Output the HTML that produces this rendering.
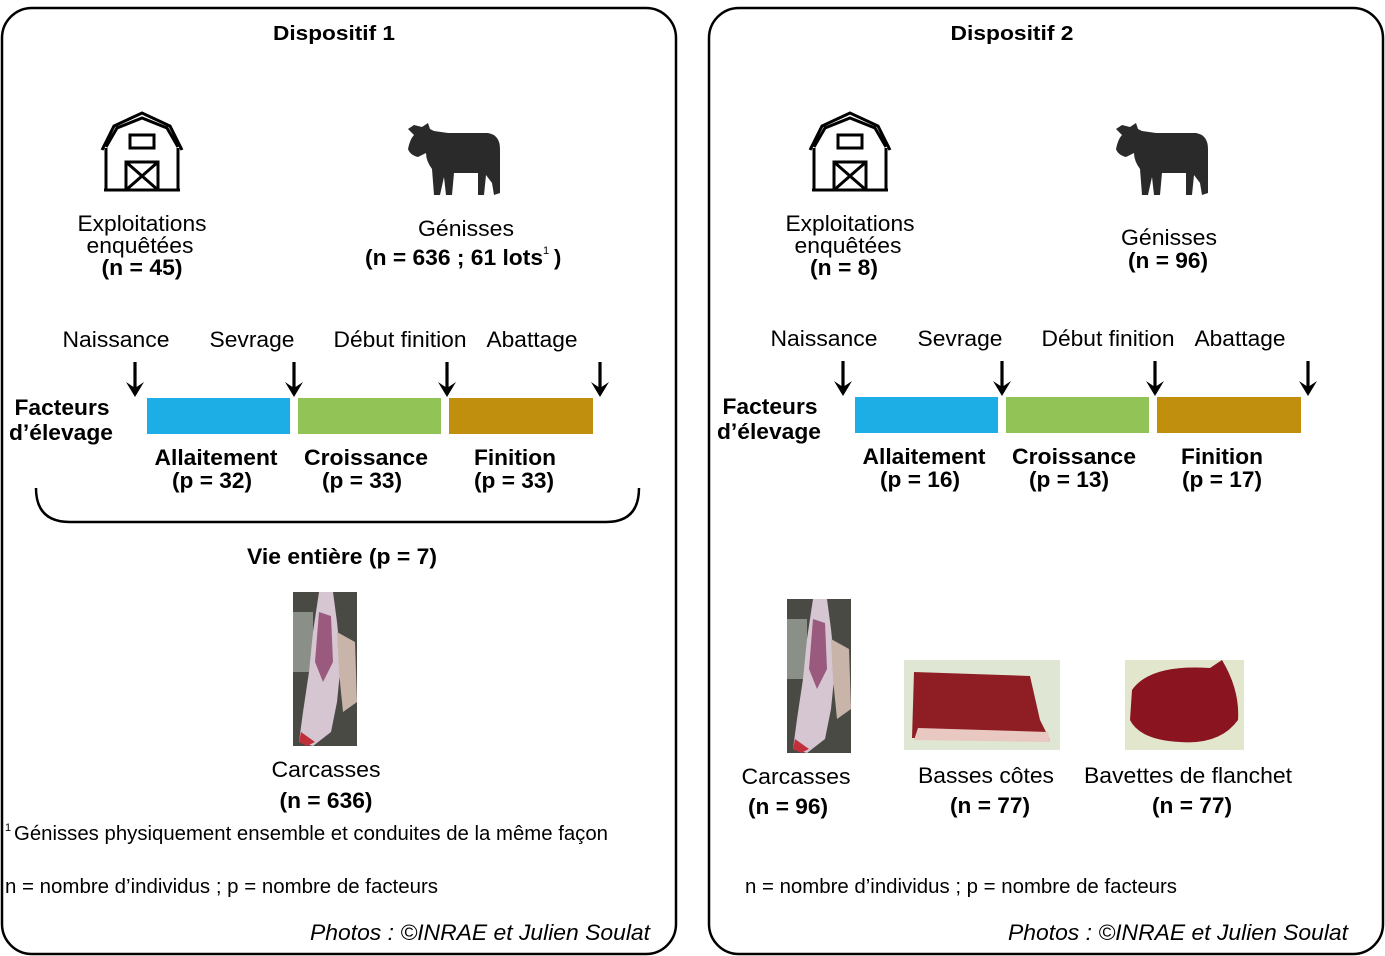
<!DOCTYPE html>
<html><head><meta charset="utf-8"><style>
html,body{margin:0;padding:0;background:#fff}
svg{display:block}
text{font-family:"Liberation Sans",sans-serif;fill:#000}
.b{font-weight:bold}
</style></head><body>
<svg width="1385" height="956" viewBox="0 0 1385 956" xmlns="http://www.w3.org/2000/svg">
<defs>
<g id="barn" fill="none" stroke="#000" stroke-width="3">
  <path d="M-36 80 V38 M36 80 V38 M-40 40 L-28 16 L0 3 L28 16 L40 40 M-36 37 L-25 18 L0 8 L25 18 L36 37"/>
  <path d="M-38 80 H38" stroke-width="3"/>
  <rect x="-8" y="25" width="24" height="13" transform="translate(-4,0)"/>
  <rect x="-16" y="52" width="32" height="28"/>
  <path d="M-16 52 L16 80 M16 52 L-16 80"/>
</g>
<g id="cow" fill="#2a2a2a">
  <path d="M0 8 L6 4 L14 6 L20 2 L22 8 L26 10 L40 12 L80 12 Q92 14 92 28 L92 72 L86 74 L84 62 L78 54 L76 74 L70 74 L70 52 L46 52 L44 74 L38 74 L36 56 L32 74 L26 74 L24 48 Q18 40 18 32 L10 36 Q2 34 0 28 Q2 18 6 14 Z"/>
</g>
<g id="carcass">
  <rect x="0" y="0" width="64" height="154" fill="#4a4a44"/>
  <rect x="0" y="20" width="20" height="60" fill="#8a8f88"/>
  <path d="M26 0 L40 0 L44 30 L48 70 L44 110 L38 140 L20 154 L6 150 L10 120 L16 80 L20 40 Z" fill="#d6c6d2"/>
  <path d="M26 20 L38 24 L40 70 L30 90 L22 70 Z" fill="#9a5a7e"/>
  <path d="M44 40 L62 50 L64 110 L50 120 L46 80 Z" fill="#c8b4a8"/>
  <path d="M8 140 L22 150 L14 154 L6 150 Z" fill="#c0303a"/>
</g>
<g id="tl">
  <text x="116" y="347" font-size="22" text-anchor="middle" textLength="107" lengthAdjust="spacingAndGlyphs">Naissance</text>
  <text x="252" y="347" font-size="22" text-anchor="middle" textLength="85" lengthAdjust="spacingAndGlyphs">Sevrage</text>
  <text x="400" y="347" font-size="22" text-anchor="middle" textLength="133" lengthAdjust="spacingAndGlyphs">Début finition</text>
  <text x="532" y="347" font-size="22" text-anchor="middle" textLength="91" lengthAdjust="spacingAndGlyphs">Abattage</text>
  <g stroke="#000" stroke-width="3.2" fill="none">
    <path d="M135 362 V390"/><path d="M294 362 V390"/><path d="M447 362 V390"/><path d="M600 362 V390"/>
  </g>
  <g fill="#000">
    <path d="M126 382 L135 397 L144 382 L135 388 Z"/>
    <path d="M285 382 L294 397 L303 382 L294 388 Z"/>
    <path d="M438 382 L447 397 L456 382 L447 388 Z"/>
    <path d="M591 382 L600 397 L609 382 L600 388 Z"/>
  </g>
  <rect x="147" y="398" width="143" height="36" fill="#1eaee6"/>
  <rect x="298" y="398" width="143" height="36" fill="#92c356"/>
  <rect x="449" y="398" width="144" height="36" fill="#c18f0e"/>
  <text x="62" y="415" font-size="22" class="b" text-anchor="middle" textLength="95" lengthAdjust="spacingAndGlyphs">Facteurs</text>
  <text x="61" y="440" font-size="22" class="b" text-anchor="middle" textLength="104" lengthAdjust="spacingAndGlyphs">d’élevage</text>
</g>
</defs>

<rect x="2" y="8" width="674" height="946" rx="30" fill="none" stroke="#000" stroke-width="2.5"/>
<rect x="709" y="8" width="674" height="946" rx="30" fill="none" stroke="#000" stroke-width="2.5"/>

<!-- Panel 1 -->
<text x="334" y="40" font-size="20" class="b" text-anchor="middle" textLength="122" lengthAdjust="spacingAndGlyphs">Dispositif 1</text>
<use href="#barn" x="142" y="110"/>
<use href="#cow" x="408" y="121"/>
<text x="142" y="231" font-size="22" text-anchor="middle" textLength="129" lengthAdjust="spacingAndGlyphs">Exploitations</text>
<text x="140" y="253" font-size="22" text-anchor="middle" textLength="107" lengthAdjust="spacingAndGlyphs">enquêtées</text>
<text x="142" y="275" font-size="22" class="b" text-anchor="middle" textLength="81" lengthAdjust="spacingAndGlyphs">(n = 45)</text>
<text x="466" y="236" font-size="22" text-anchor="middle" textLength="96" lengthAdjust="spacingAndGlyphs">Génisses</text>
<text x="365" y="265" font-size="22" class="b" textLength="178" lengthAdjust="spacingAndGlyphs">(n = 636 ; 61 lots</text>
<text x="543" y="254" font-size="11">1</text>
<text x="554" y="265" font-size="22" class="b">)</text>
<use href="#tl"/>
<text x="216" y="465" font-size="22" class="b" text-anchor="middle" textLength="123" lengthAdjust="spacingAndGlyphs">Allaitement</text>
<text x="212" y="488" font-size="22" class="b" text-anchor="middle" textLength="80" lengthAdjust="spacingAndGlyphs">(p = 32)</text>
<text x="366" y="465" font-size="22" class="b" text-anchor="middle" textLength="124" lengthAdjust="spacingAndGlyphs">Croissance</text>
<text x="362" y="488" font-size="22" class="b" text-anchor="middle" textLength="80" lengthAdjust="spacingAndGlyphs">(p = 33)</text>
<text x="515" y="465" font-size="22" class="b" text-anchor="middle" textLength="82" lengthAdjust="spacingAndGlyphs">Finition</text>
<text x="514" y="488" font-size="22" class="b" text-anchor="middle" textLength="80" lengthAdjust="spacingAndGlyphs">(p = 33)</text>
<path d="M36 488 Q36 522 70 522 H606 Q639 522 639 488" fill="none" stroke="#000" stroke-width="2.5"/>
<text x="342" y="564" font-size="22" class="b" text-anchor="middle" textLength="190" lengthAdjust="spacingAndGlyphs">Vie entière (p = 7)</text>
<use href="#carcass" x="293" y="592"/>
<text x="326" y="777" font-size="22" text-anchor="middle" textLength="109" lengthAdjust="spacingAndGlyphs">Carcasses</text>
<text x="326" y="808" font-size="22" class="b" text-anchor="middle" textLength="93" lengthAdjust="spacingAndGlyphs">(n = 636)</text>
<text x="5" y="831" font-size="11">1</text>
<text x="14" y="840" font-size="20" textLength="594" lengthAdjust="spacingAndGlyphs">Génisses physiquement ensemble et conduites de la même façon</text>
<text x="5" y="893" font-size="20" textLength="433" lengthAdjust="spacingAndGlyphs">n = nombre d’individus ; p = nombre de facteurs</text>
<text x="650" y="940" font-size="22" font-style="italic" text-anchor="end" textLength="340" lengthAdjust="spacingAndGlyphs">Photos : ©INRAE et Julien Soulat</text>

<!-- Panel 2 -->
<text x="1012" y="40" font-size="20" class="b" text-anchor="middle" textLength="123" lengthAdjust="spacingAndGlyphs">Dispositif 2</text>
<use href="#barn" x="850" y="110"/>
<use href="#cow" x="1116" y="121"/>
<text x="850" y="231" font-size="22" text-anchor="middle" textLength="129" lengthAdjust="spacingAndGlyphs">Exploitations</text>
<text x="848" y="253" font-size="22" text-anchor="middle" textLength="107" lengthAdjust="spacingAndGlyphs">enquêtées</text>
<text x="844" y="275" font-size="22" class="b" text-anchor="middle" textLength="68" lengthAdjust="spacingAndGlyphs">(n = 8)</text>
<text x="1169" y="245" font-size="22" text-anchor="middle" textLength="96" lengthAdjust="spacingAndGlyphs">Génisses</text>
<text x="1168" y="268" font-size="22" class="b" text-anchor="middle" textLength="80" lengthAdjust="spacingAndGlyphs">(n = 96)</text>
<use href="#tl" x="708" y="-1"/>
<text x="924" y="464" font-size="22" class="b" text-anchor="middle" textLength="123" lengthAdjust="spacingAndGlyphs">Allaitement</text>
<text x="920" y="487" font-size="22" class="b" text-anchor="middle" textLength="80" lengthAdjust="spacingAndGlyphs">(p = 16)</text>
<text x="1074" y="464" font-size="22" class="b" text-anchor="middle" textLength="124" lengthAdjust="spacingAndGlyphs">Croissance</text>
<text x="1069" y="487" font-size="22" class="b" text-anchor="middle" textLength="80" lengthAdjust="spacingAndGlyphs">(p = 13)</text>
<text x="1222" y="464" font-size="22" class="b" text-anchor="middle" textLength="82" lengthAdjust="spacingAndGlyphs">Finition</text>
<text x="1222" y="487" font-size="22" class="b" text-anchor="middle" textLength="80" lengthAdjust="spacingAndGlyphs">(p = 17)</text>
<use href="#carcass" x="787" y="599"/>
<rect x="904" y="660" width="156" height="90" fill="#dfe6d4"/>
<path d="M914 672 L1030 676 L1040 720 L1050 740 L912 738 Z" fill="#8e1e24"/>
<path d="M918 728 L1048 732 L1050 742 L914 740 Z" fill="#e8c8c0"/>
<rect x="1125" y="660" width="119" height="90" fill="#e2e6cc"/>
<path d="M1132 690 Q1150 664 1210 668 L1222 660 Q1240 690 1238 720 Q1220 745 1180 742 Q1140 740 1130 720 Z" fill="#8a1420"/>
<text x="796" y="784" font-size="22" text-anchor="middle" textLength="109" lengthAdjust="spacingAndGlyphs">Carcasses</text>
<text x="788" y="814" font-size="22" class="b" text-anchor="middle" textLength="80" lengthAdjust="spacingAndGlyphs">(n = 96)</text>
<text x="986" y="783" font-size="22" text-anchor="middle" textLength="136" lengthAdjust="spacingAndGlyphs">Basses côtes</text>
<text x="990" y="813" font-size="22" class="b" text-anchor="middle" textLength="80" lengthAdjust="spacingAndGlyphs">(n = 77)</text>
<text x="1188" y="783" font-size="22" text-anchor="middle" textLength="208" lengthAdjust="spacingAndGlyphs">Bavettes de flanchet</text>
<text x="1192" y="813" font-size="22" class="b" text-anchor="middle" textLength="80" lengthAdjust="spacingAndGlyphs">(n = 77)</text>
<text x="745" y="893" font-size="20" textLength="432" lengthAdjust="spacingAndGlyphs">n = nombre d’individus ; p = nombre de facteurs</text>
<text x="1348" y="940" font-size="22" font-style="italic" text-anchor="end" textLength="340" lengthAdjust="spacingAndGlyphs">Photos : ©INRAE et Julien Soulat</text>
</svg>
</body></html>
